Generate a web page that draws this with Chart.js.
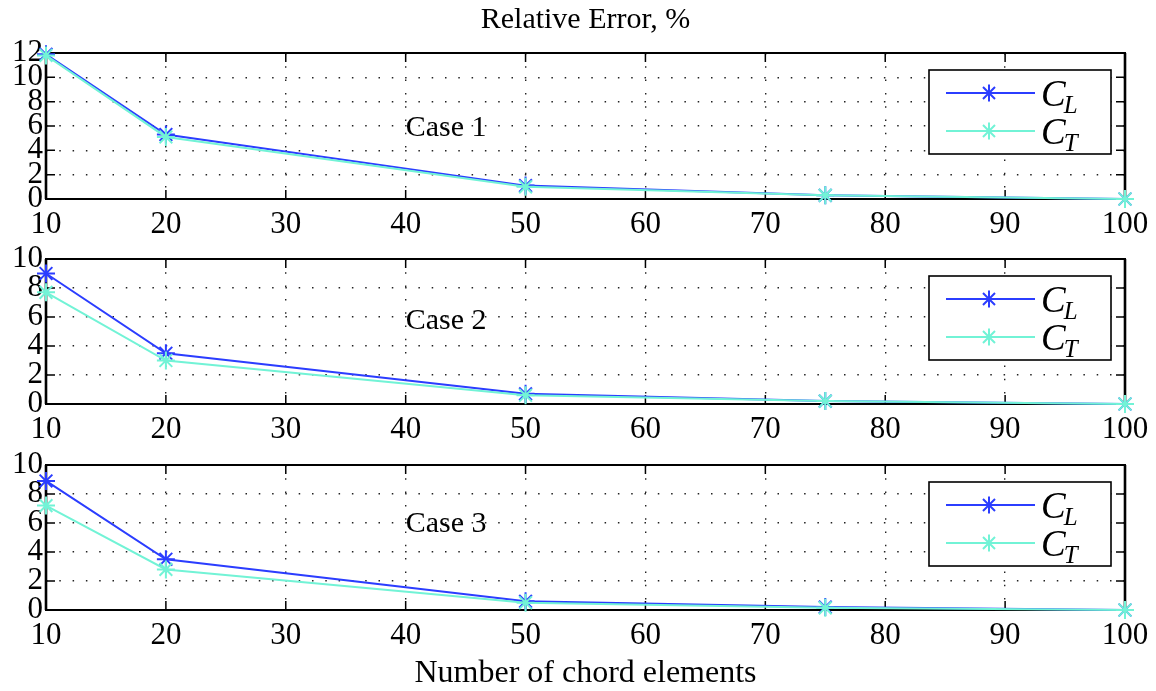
<!DOCTYPE html>
<html>
<head>
<meta charset="utf-8">
<script src="https://cdn.jsdelivr.net/npm/chart.js@4.4.1/dist/chart.umd.min.js"></script>
<style>
  html, body { margin: 0; padding: 0; background: #fff; }
  #wrap { position: relative; width: 1156px; height: 691px; overflow: hidden; }
  .panel { position: absolute; left: 0; width: 1156px; }
</style>
</head>
<body>
<div id="wrap">
  <div class="panel" style="top:0;height:240px"><canvas id="c1"></canvas></div>
  <div class="panel" style="top:240px;height:210px"><canvas id="c2"></canvas></div>
  <div class="panel" style="top:450px;height:241px"><canvas id="c3"></canvas></div>
</div>
<script>
// Number of chord elements along the blade
const elements = [10, 20, 50, 75, 100];

// Relative error (%) of the lift (C_L) and thrust (C_T) coefficients
const case1CL = [11.9, 5.3, 1.1, 0.3, 0.0];
const case1CT = [11.8, 5.1, 1.0, 0.3, 0.0];
const case2CL = [9.0, 3.5, 0.7, 0.2, 0.0];
const case2CT = [7.7, 3.0, 0.6, 0.2, 0.0];
const case3CL = [8.9, 3.5, 0.6, 0.2, 0.0];
const case3CT = [7.2, 2.8, 0.5, 0.15, 0.0];

// Axis tick values
const xTickValues = [10, 20, 30, 40, 50, 60, 70, 80, 90, 100];
const yTicksCase1 = [0, 2, 4, 6, 8, 10, 12];
const yTicksCase23 = [0, 2, 4, 6, 8, 10];

const caseNames = ['Case 1', 'Case 2', 'Case 3'];

const SERIF = "'Liberation Serif', 'Times New Roman', 'DejaVu Serif', serif";
const BLUE = '#2b3dff';
const AQUA = '#72f3d6';

function pairs(xs, ys) {
  return xs.map((x, i) => ({ x: x, y: ys[i] }));
}

function drawStar(ctx, cx, cy, r) {
  ctx.beginPath();
  for (let k = 0; k < 4; k++) {
    const a = k * Math.PI / 4;
    ctx.moveTo(cx - r * Math.cos(a), cy - r * Math.sin(a));
    ctx.lineTo(cx + r * Math.cos(a), cy + r * Math.sin(a));
  }
  ctx.stroke();
}

// Box around the plot area with inward tick marks on all four sides
const framePlugin = {
  id: 'frame',
  beforeDatasetsDraw(chart) {
    const { ctx, chartArea: a, scales: { x, y } } = chart;
    ctx.save();
    ctx.strokeStyle = '#000';
    ctx.lineCap = 'butt';
    ctx.lineWidth = 1.5;
    const tl = 9;
    ctx.beginPath();
    x.ticks.forEach(t => {
      const px = x.getPixelForValue(t.value);
      ctx.moveTo(px, a.bottom); ctx.lineTo(px, a.bottom - tl);
      ctx.moveTo(px, a.top); ctx.lineTo(px, a.top + tl);
    });
    y.ticks.forEach(t => {
      const py = y.getPixelForValue(t.value);
      ctx.moveTo(a.left, py); ctx.lineTo(a.left + tl, py);
      ctx.moveTo(a.right, py); ctx.lineTo(a.right - tl, py);
    });
    ctx.stroke();
    ctx.lineWidth = 2;
    ctx.beginPath();
    ctx.moveTo(a.left - 1, a.top); ctx.lineTo(a.right + 1, a.top);
    ctx.moveTo(a.left - 1, a.bottom); ctx.lineTo(a.right + 1, a.bottom);
    ctx.stroke();
    ctx.lineWidth = 2.6;
    ctx.beginPath();
    ctx.moveTo(a.left, a.top); ctx.lineTo(a.left, a.bottom);
    ctx.moveTo(a.right, a.top); ctx.lineTo(a.right, a.bottom);
    ctx.stroke();
    ctx.restore();
  }
};

// Legend box (C_L, C_T with subscripts) and the case label
const annotPlugin = {
  id: 'annot',
  afterDatasetsDraw(chart, args, opts) {
    const { ctx, chartArea: a, scales: { x, y } } = chart;
    ctx.save();
    // case label
    ctx.fillStyle = '#000';
    ctx.font = '30px ' + SERIF;
    ctx.textAlign = 'left';
    ctx.textBaseline = 'middle';
    ctx.fillText(opts.label, x.getPixelForValue(opts.labelX), y.getPixelForValue(opts.labelY));

    // legend
    const bw = 182, bh = 84;
    const bx = a.right - 14 - bw, by = a.top + 17;
    ctx.fillStyle = '#fff';
    ctx.fillRect(bx, by, bw, bh);
    ctx.strokeStyle = '#000';
    ctx.lineWidth = 1.6;
    ctx.strokeRect(bx, by, bw, bh);
    const items = chart.data.datasets.map(d => ({ color: d.borderColor, sub: d.sub }));
    const rows = [by + 23, by + 61];
    items.forEach((it, i) => {
      const ry = rows[i];
      ctx.strokeStyle = it.color;
      ctx.lineWidth = 2;
      ctx.beginPath();
      ctx.moveTo(bx + 17, ry); ctx.lineTo(bx + 106, ry);
      ctx.stroke();
      ctx.lineWidth = 2;
      drawStar(ctx, bx + 60, ry, 8.5);
      ctx.fillStyle = '#000';
      ctx.textBaseline = 'alphabetic';
      ctx.font = 'italic 37px ' + SERIF;
      ctx.fillText('C', bx + 112, ry + 13);
      const cw = ctx.measureText('C').width;
      ctx.font = 'italic 25px ' + SERIF;
      ctx.fillText(it.sub, bx + 112 + cw - 2, ry + 20);
    });
    ctx.restore();
  }
};

function makePanel(id, cl, ct, yTicks, cfg) {
  const yMax = yTicks[yTicks.length - 1];
  return new Chart(document.getElementById(id), {
    type: 'line',
    data: {
      datasets: [
        {
          label: 'C_L', sub: 'L', data: pairs(elements, cl),
          borderColor: BLUE, backgroundColor: BLUE,
          pointBorderColor: BLUE, pointStyle: 'star', pointRadius: 9,
          pointBorderWidth: 2, borderWidth: 2, tension: 0, clip: false, order: 1
        },
        {
          label: 'C_T', sub: 'T', data: pairs(elements, ct),
          borderColor: AQUA, backgroundColor: AQUA,
          pointBorderColor: AQUA, pointStyle: 'star', pointRadius: 9,
          pointBorderWidth: 2, borderWidth: 2, tension: 0, clip: false, order: 0
        }
      ]
    },
    options: {
      responsive: true,
      maintainAspectRatio: false,
      animation: false,
      events: [],
      layout: { padding: { left: 0, right: 31, top: cfg.padTop, bottom: 0 } },
      plugins: {
        legend: { display: false },
        tooltip: { enabled: false },
        title: cfg.title ? {
          display: true, text: cfg.title, color: '#000', fullSize: false,
          font: { family: SERIF, size: 30, weight: 'normal', lineHeight: 1.2 },
          padding: { top: 2, bottom: 15 }
        } : { display: false },
        annot: { label: cfg.label, labelX: 40, labelY: cfg.labelY }
      },
      scales: {
        x: {
          type: 'linear', min: 10, max: 100,
          afterBuildTicks: s => { s.ticks = xTickValues.map(v => ({ value: v })); },
          afterFit: s => {
            s.height = cfg.xHeight;
            s.paddingLeft = 0; s.paddingRight = 0; s.paddingTop = 0; s.paddingBottom = 0;
          },
          ticks: {
            color: '#000', padding: 9, maxRotation: 0, autoSkip: false,
            font: { family: SERIF, size: 31, lineHeight: 1.1 }
          },
          grid: { color: '#222', lineWidth: 1.4, drawTicks: false, drawOnChartArea: true },
          border: { display: false, dash: [1.5, 11.8] },
          title: cfg.xTitle ? {
            display: true, text: cfg.xTitle, color: '#000',
            font: { family: SERIF, size: 32, lineHeight: 1.1 },
            padding: { top: 0, bottom: 0 }
          } : { display: false }
        },
        y: {
          type: 'linear', min: 0, max: yMax,
          afterBuildTicks: s => { s.ticks = yTicks.map(v => ({ value: v })); },
          afterFit: s => {
            s.width = 46;
            s.paddingLeft = 0; s.paddingRight = 0; s.paddingTop = 0; s.paddingBottom = 0;
          },
          ticks: {
            color: '#000', padding: 3, autoSkip: false,
            font: { family: SERIF, size: 31, lineHeight: 1 }
          },
          grid: { color: '#222', lineWidth: 1.4, drawTicks: false, drawOnChartArea: true },
          border: { display: false, dash: [1.5, 11.8] }
        }
      }
    },
    plugins: [framePlugin, annotPlugin]
  });
}

makePanel('c1', case1CL, case1CT, yTicksCase1, {
  padTop: 0, title: 'Relative Error, %', xHeight: 41, label: caseNames[0], labelY: 5.8
});
makePanel('c2', case2CL, case2CT, yTicksCase23, {
  padTop: 19, xHeight: 46, label: caseNames[1], labelY: 5.7
});
makePanel('c3', case3CL, case3CT, yTicksCase23, {
  padTop: 15, xHeight: 81, label: caseNames[2], labelY: 5.9, xTitle: 'Number of chord elements'
});
</script>
</body>
</html>
